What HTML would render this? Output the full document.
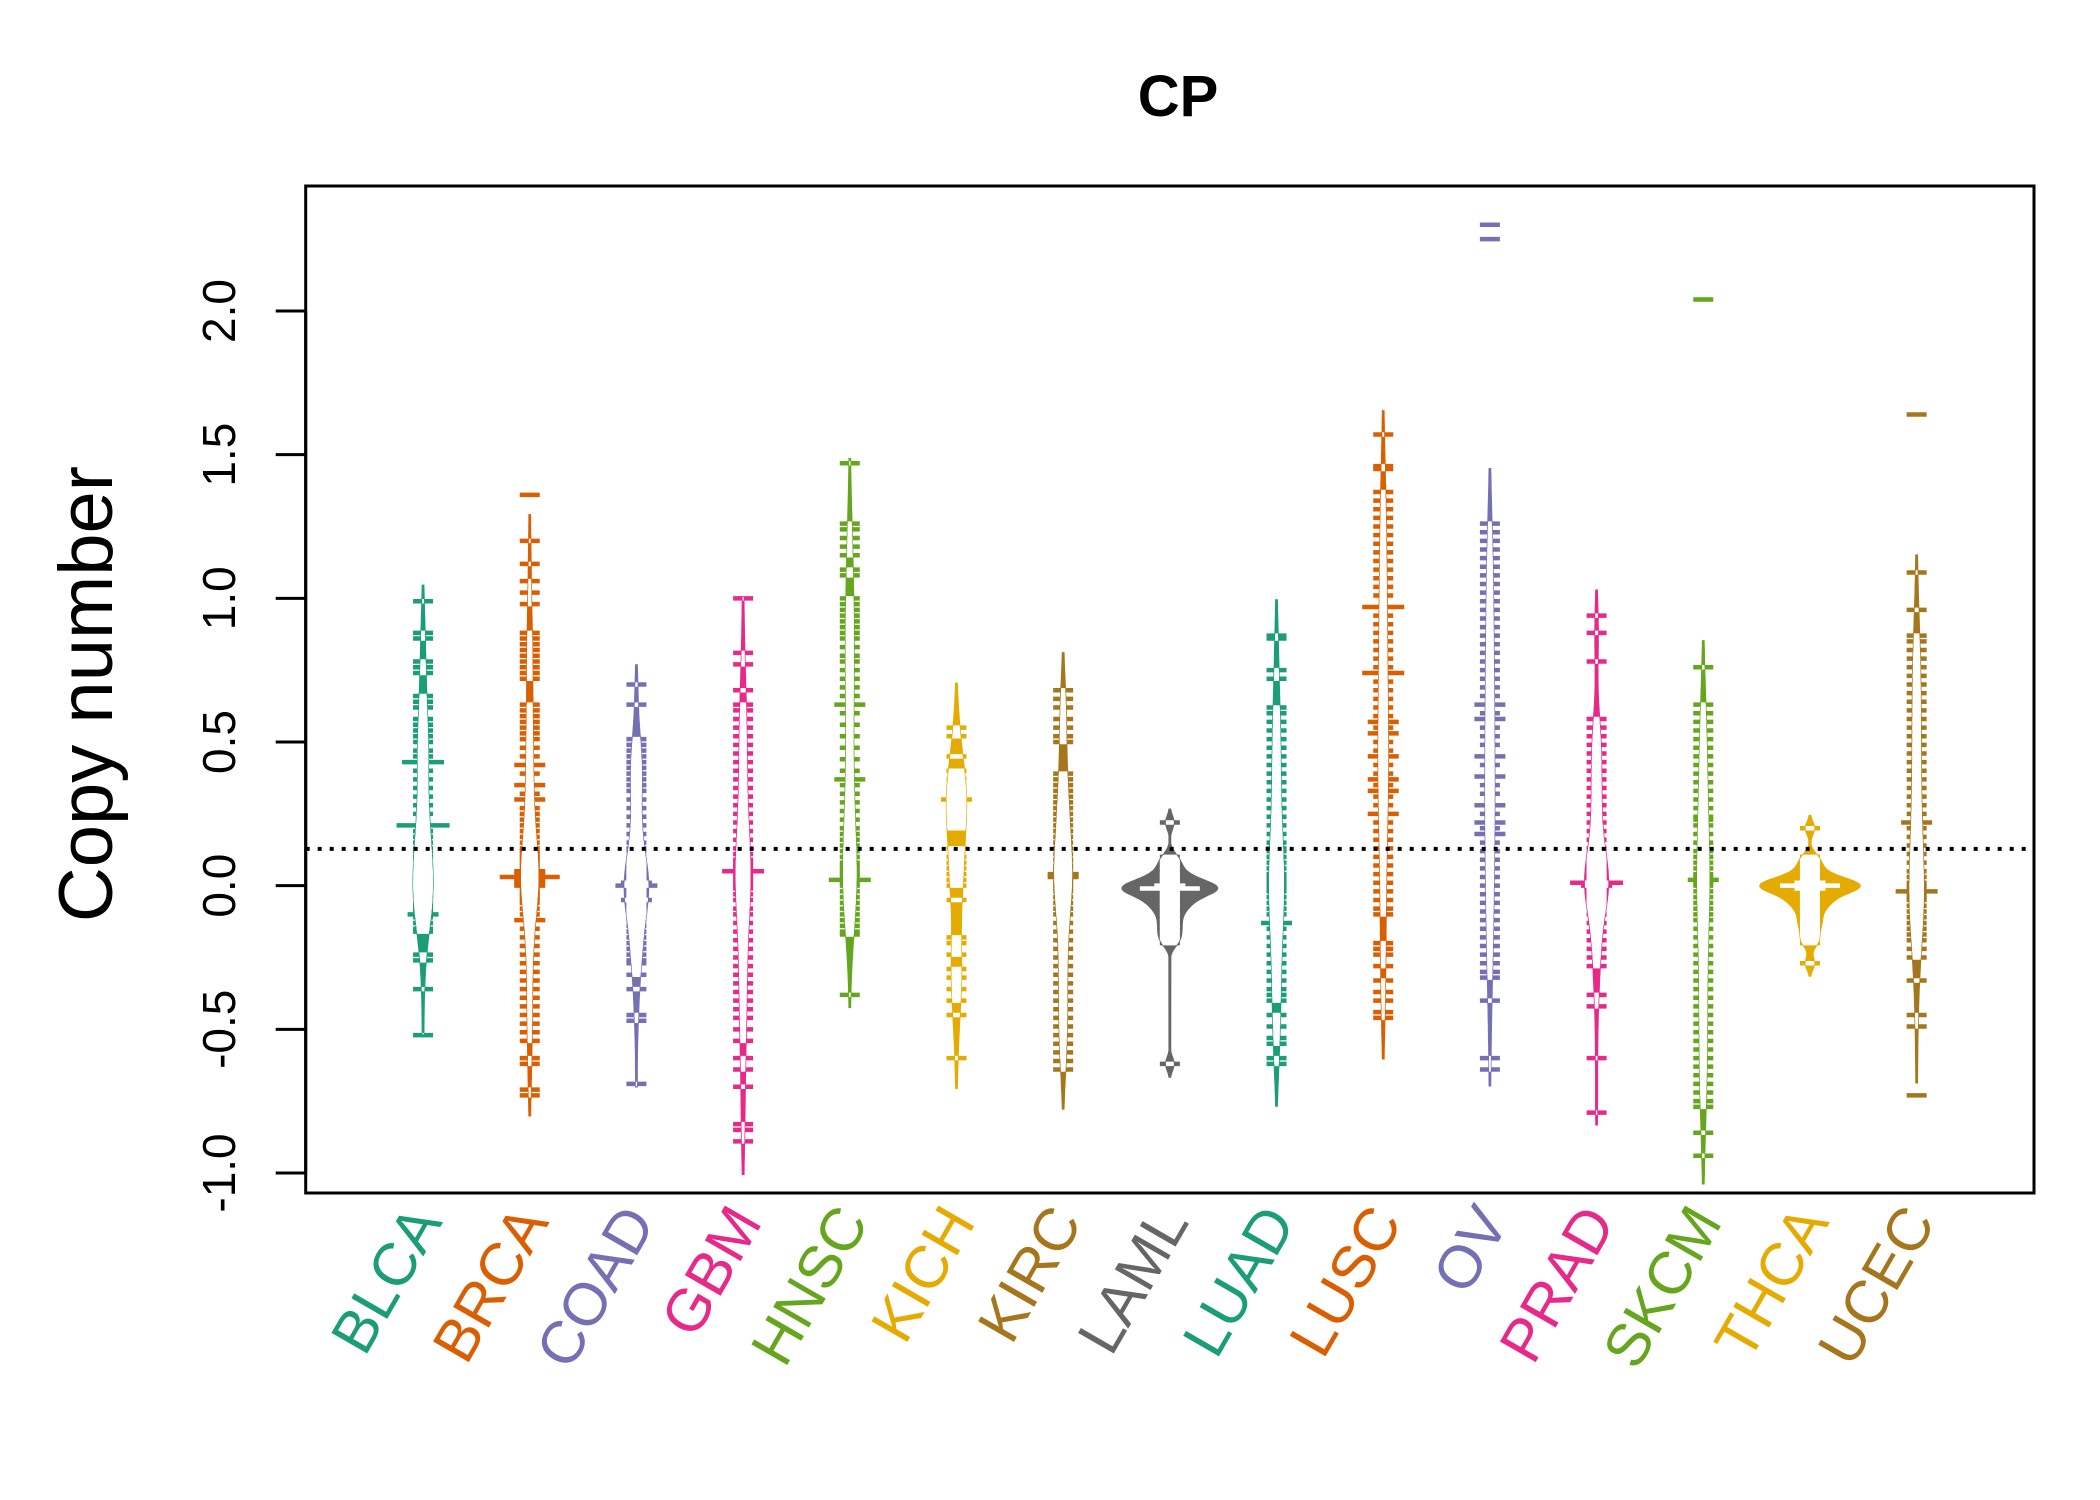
<!DOCTYPE html>
<html><head><meta charset="utf-8"><style>
html,body{margin:0;padding:0;background:#fff;}
svg{display:block;font-family:"Liberation Sans",sans-serif;}
</style></head><body>
<svg id="chart" width="2100" height="1500" viewBox="0 0 2100 1500" xmlns="http://www.w3.org/2000/svg">
<rect x="0" y="0" width="2100" height="1500" fill="#fff"/>
<text x="1178" y="116" font-size="58" font-weight="bold" text-anchor="middle">CP</text>
<text transform="translate(112,694) rotate(-90)" font-size="76" text-anchor="middle">Copy number</text>
<g id="beans"></g>
<g id="axes"></g>
</svg>
<script>
const categories = ["BLCA","BRCA","COAD","GBM","HNSC","KICH","KIRC","LAML","LUAD","LUSC","OV","PRAD","SKCM","THCA","UCEC"];
const colors = ["#1B9E77","#D95F02","#7570B3","#E7298A","#66A61E","#E6AB02","#A6761D","#666666","#1B9E77","#D95F02","#7570B3","#E7298A","#66A61E","#E6AB02","#A6761D"];
const yTicks = [-1.0,-0.5,0.0,0.5,1.0,1.5,2.0];
const yTickLabels = ["-1.0","-0.5","0.0","0.5","1.0","1.5","2.0"];
const overallMean = 0.128;
const valsBLCA = [0.99,0.88,0.86,0.78,0.76,0.74,0.66,0.64,0.62,0.58,0.56,0.54,0.52,0.50,0.47,0.45,0.43,0.43,0.43,0.40,0.37,0.34,0.31,0.28,0.25,0.21,0.21,0.21,0.21,0.19,0.17,0.15,0.13,0.12,0.10,0.09,0.08,0.07,0.06,0.05,0.04,0.03,0.02,0.01,0.00,-0.01,-0.02,-0.03,-0.04,-0.05,-0.06,-0.07,-0.08,-0.09,-0.10,-0.10,-0.11,-0.13,-0.15,-0.16,-0.24,-0.26,-0.36,-0.52];
const valsBRCA = [1.36,1.20,1.12,1.06,1.02,0.98,0.88,0.86,0.84,0.82,0.80,0.78,0.76,0.74,0.72,0.63,0.61,0.59,0.57,0.55,0.53,0.51,0.48,0.45,0.42,0.42,0.39,0.35,0.35,0.32,0.30,0.30,0.27,0.25,0.23,0.21,0.19,0.17,0.15,0.13,0.12,0.11,0.10,0.09,0.08,0.07,0.06,0.05,0.05,0.04,0.04,0.03,0.03,0.03,0.03,0.03,0.02,0.02,0.01,0.01,0.00,0.00,-0.01,-0.02,-0.03,-0.04,-0.05,-0.06,-0.08,-0.10,-0.12,-0.12,-0.15,-0.18,-0.21,-0.24,-0.27,-0.30,-0.33,-0.36,-0.39,-0.42,-0.45,-0.48,-0.51,-0.54,-0.60,-0.62,-0.71,-0.73];
const valsCOAD = [0.70,0.63,0.51,0.49,0.47,0.45,0.43,0.41,0.39,0.37,0.35,0.33,0.30,0.27,0.24,0.21,0.18,0.15,0.13,0.12,0.10,0.08,0.06,0.05,0.04,0.03,0.02,0.01,0.01,0.00,0.00,0.00,-0.01,-0.02,-0.03,-0.04,-0.05,-0.05,-0.06,-0.08,-0.10,-0.12,-0.14,-0.16,-0.18,-0.20,-0.22,-0.24,-0.26,-0.27,-0.31,-0.36,-0.45,-0.47,-0.69];
const valsGBM = [1.00,0.81,0.77,0.68,0.63,0.61,0.58,0.55,0.52,0.49,0.46,0.43,0.40,0.37,0.34,0.31,0.28,0.25,0.22,0.19,0.16,0.13,0.11,0.09,0.08,0.07,0.06,0.05,0.05,0.05,0.04,0.03,0.02,0.01,0.00,-0.01,-0.03,-0.05,-0.08,-0.10,-0.13,-0.16,-0.19,-0.22,-0.25,-0.28,-0.31,-0.34,-0.37,-0.40,-0.43,-0.46,-0.50,-0.54,-0.60,-0.64,-0.70,-0.83,-0.85,-0.89];
const valsHNSC = [1.47,1.26,1.24,1.21,1.18,1.15,1.10,1.08,1.00,0.98,0.96,0.94,0.92,0.90,0.88,0.86,0.83,0.80,0.78,0.75,0.72,0.69,0.66,0.63,0.63,0.60,0.56,0.52,0.48,0.44,0.40,0.37,0.37,0.35,0.32,0.29,0.26,0.23,0.20,0.18,0.16,0.14,0.12,0.10,0.08,0.07,0.06,0.05,0.04,0.03,0.02,0.02,0.02,0.01,0.00,-0.02,-0.04,-0.06,-0.08,-0.10,-0.12,-0.14,-0.16,-0.17,-0.38];
const valsKICH = [0.55,0.52,0.45,0.40,0.37,0.34,0.32,0.31,0.30,0.30,0.29,0.28,0.26,0.23,0.20,0.13,0.10,0.08,0.06,0.04,0.02,0.00,-0.05,-0.18,-0.20,-0.24,-0.29,-0.32,-0.36,-0.40,-0.45,-0.60];
const valsKIRC = [0.68,0.65,0.62,0.58,0.55,0.52,0.50,0.39,0.37,0.35,0.33,0.31,0.29,0.27,0.25,0.23,0.21,0.19,0.17,0.15,0.13,0.11,0.09,0.07,0.06,0.05,0.04,0.04,0.03,0.03,0.02,0.01,0.00,-0.01,-0.02,-0.04,-0.06,-0.08,-0.10,-0.13,-0.16,-0.19,-0.22,-0.25,-0.28,-0.31,-0.34,-0.37,-0.40,-0.43,-0.46,-0.49,-0.52,-0.55,-0.58,-0.61,-0.64];
const valsLAML = [0.22,0.10,0.08,0.06,0.04,0.03,0.02,0.01,0.00,0.00,-0.01,-0.01,-0.01,-0.01,-0.01,-0.01,-0.02,-0.03,-0.04,-0.05,-0.06,-0.07,-0.08,-0.10,-0.12,-0.14,-0.16,-0.18,-0.20,-0.62];
const valsLUAD = [0.87,0.86,0.75,0.72,0.62,0.60,0.57,0.54,0.51,0.48,0.45,0.42,0.39,0.36,0.33,0.30,0.27,0.24,0.21,0.18,0.15,0.13,0.12,0.10,0.08,0.06,0.04,0.03,0.02,0.01,0.00,-0.01,-0.02,-0.04,-0.06,-0.08,-0.10,-0.13,-0.13,-0.15,-0.18,-0.21,-0.24,-0.27,-0.30,-0.33,-0.36,-0.38,-0.40,-0.45,-0.49,-0.53,-0.55,-0.60,-0.62];
const valsLUSC = [1.57,1.46,1.45,1.37,1.34,1.31,1.28,1.25,1.22,1.19,1.16,1.13,1.10,1.07,1.04,1.01,0.97,0.97,0.97,0.94,0.91,0.88,0.85,0.82,0.79,0.76,0.74,0.74,0.74,0.71,0.68,0.65,0.62,0.59,0.57,0.57,0.55,0.53,0.53,0.50,0.47,0.45,0.45,0.42,0.39,0.37,0.37,0.35,0.33,0.33,0.31,0.28,0.25,0.25,0.22,0.19,0.16,0.13,0.10,0.07,0.04,0.01,-0.02,-0.05,-0.08,-0.10,-0.20,-0.22,-0.24,-0.28,-0.33,-0.37,-0.40,-0.44,-0.46];
const valsOV = [2.30,2.25,1.26,1.23,1.20,1.17,1.14,1.11,1.08,1.05,1.02,0.99,0.96,0.93,0.90,0.87,0.84,0.81,0.78,0.75,0.72,0.69,0.66,0.63,0.63,0.60,0.58,0.58,0.55,0.52,0.49,0.45,0.45,0.42,0.38,0.38,0.35,0.32,0.28,0.28,0.25,0.22,0.22,0.20,0.18,0.18,0.15,0.12,0.09,0.06,0.03,0.00,-0.03,-0.06,-0.09,-0.12,-0.15,-0.18,-0.21,-0.24,-0.27,-0.30,-0.32,-0.40,-0.60,-0.64];
const valsPRAD = [0.94,0.88,0.78,0.58,0.55,0.52,0.49,0.46,0.43,0.40,0.37,0.34,0.31,0.28,0.25,0.22,0.19,0.16,0.13,0.11,0.09,0.07,0.05,0.04,0.03,0.02,0.01,0.01,0.01,0.01,0.00,0.00,-0.01,-0.02,-0.03,-0.05,-0.07,-0.10,-0.13,-0.16,-0.19,-0.22,-0.25,-0.28,-0.38,-0.42,-0.60,-0.79];
const valsSKCM = [2.04,0.76,0.63,0.60,0.57,0.54,0.51,0.48,0.45,0.42,0.39,0.36,0.33,0.30,0.27,0.24,0.23,0.21,0.18,0.15,0.12,0.10,0.08,0.06,0.04,0.03,0.02,0.02,0.01,0.00,-0.02,-0.04,-0.06,-0.08,-0.10,-0.12,-0.15,-0.18,-0.21,-0.24,-0.27,-0.30,-0.33,-0.36,-0.39,-0.42,-0.45,-0.48,-0.51,-0.54,-0.57,-0.60,-0.63,-0.66,-0.69,-0.72,-0.75,-0.77,-0.86,-0.94];
const valsTHCA = [0.20,0.10,0.08,0.06,0.04,0.03,0.02,0.01,0.01,0.00,0.00,0.00,0.00,0.00,-0.01,-0.01,-0.02,-0.03,-0.04,-0.05,-0.06,-0.07,-0.09,-0.11,-0.13,-0.15,-0.18,-0.20,-0.27];
const valsUCEC = [1.64,1.09,0.96,0.87,0.85,0.82,0.79,0.76,0.73,0.70,0.67,0.64,0.61,0.58,0.55,0.52,0.49,0.46,0.43,0.40,0.37,0.34,0.31,0.28,0.25,0.22,0.22,0.20,0.17,0.14,0.11,0.08,0.05,0.03,0.01,0.00,-0.01,-0.02,-0.02,-0.02,-0.03,-0.04,-0.05,-0.07,-0.09,-0.11,-0.13,-0.15,-0.17,-0.19,-0.22,-0.25,-0.33,-0.45,-0.49,-0.73];
const seriesValues = [valsBLCA,valsBRCA,valsCOAD,valsGBM,valsHNSC,valsKICH,valsKIRC,valsLAML,valsLUAD,valsLUSC,valsOV,valsPRAD,valsSKCM,valsTHCA,valsUCEC];

const NS = "http://www.w3.org/2000/svg";
const plot = {left:305.7, right:2034, top:186, bottom:1193};
const xDomain = [-0.1, 16.1];
const yScaleTop = 311, yScaleBottom = 1173;
function xScale(i){ return plot.left + (i + 1 - xDomain[0]) / (xDomain[1]-xDomain[0]) * (plot.right-plot.left); }
function yScale(v){ return yScaleBottom + (v - (-1.0)) / 3.0 * (yScaleTop - yScaleBottom); }
function mk(tag, attrs, parent){ const e=document.createElementNS(NS,tag); for(const k in attrs) e.setAttribute(k,attrs[k]); parent.appendChild(e); return e; }

const svg = document.getElementById('chart');
const beans = document.getElementById('beans');
const axes = document.getElementById('axes');
const defs = mk('defs',{},svg);

function bw(v){
  const n=v.length, m=v.reduce((a,b)=>a+b,0)/n;
  const sd=Math.sqrt(v.reduce((a,b)=>a+(b-m)*(b-m),0)/(n-1));
  const s=[...v].sort((a,b)=>a-b);
  const q=p=>{const h=(n-1)*p, l=Math.floor(h); return s[l]+(s[Math.min(l+1,n-1)]-s[l])*(h-l);};
  const iqr=(q(0.75)-q(0.25))/1.34;
  return 0.75*Math.min(sd, iqr>0?iqr:sd)*Math.pow(n,-0.2);
}
function dens(v,h,t){ let s=0; for(const x of v){const z=(t-x)/h; s+=Math.exp(-0.5*z*z);} return s/(v.length*h*Math.sqrt(2*Math.PI)); }

const profiles = seriesValues.map(v=>{
  const h=bw(v); const lo=Math.min(...v)-3*h, hi=Math.max(...v)+3*h;
  const pts=[]; const N=300;
  for(let k=0;k<=N;k++){ const t=lo+(hi-lo)*k/N; pts.push([t,dens(v,h,t)]); }
  return pts;
});
let gmax=0; profiles.forEach(p=>p.forEach(q=>{ if(q[1]>gmax) gmax=q[1]; }));
const maxHalf = 50;

seriesValues.forEach((vals,i)=>{
  const cx=xScale(i), col=colors[i];
  const g=mk('g',{},beans);
  
  
  const pts=profiles[i].filter(q=>q[1]/gmax*maxHalf>0.6);
  let d='';
  pts.forEach((q,k)=>{ d+=(k?'L':'M')+(cx+q[1]/gmax*maxHalf).toFixed(1)+','+yScale(q[0]).toFixed(1); });
  for(let k=pts.length-1;k>=0;k--){ const q=pts[k]; d+='L'+(cx-q[1]/gmax*maxHalf).toFixed(1)+','+yScale(q[0]).toFixed(1); }
  d+='Z';
  const bp=mk('path',{d:d,fill:col,stroke:col,'stroke-width':1.5},g);
  
  
  const cp=mk('clipPath',{id:'clip'+i},defs);
  mk('path',{d:d},cp);
  const counts={};
  vals.forEach(v=>{ const k=v.toFixed(2); counts[k]=(counts[k]||0)+1; });
  const outer=mk('g',{},g), inner=mk('g',{'clip-path':'url(#clip'+i+')'},g);
  const uniq=Object.keys(counts).map(parseFloat).sort((a,b)=>a-b);
  for(let k=1;k<uniq.length;k++){
    if(uniq[k]-uniq[k-1]<=0.045){
      const r=mk('rect',{x:cx-10,width:20,y:yScale(uniq[k]),height:yScale(uniq[k-1])-yScale(uniq[k]),fill:'#fff'},inner);
      
      
    }
  }
  Object.keys(counts).forEach(k=>{
    const v=parseFloat(k), c=counts[k];
    const w=Math.min(20+11*(c-1),60), y=yScale(v);
    const l1=mk('line',{x1:cx-w/2,x2:cx+w/2,y1:y,y2:y,stroke:col,'stroke-width':4.5},outer);
    
    
    const l2=mk('line',{x1:cx-w/2,x2:cx+w/2,y1:y,y2:y,stroke:'#fff','stroke-width':4.5},inner);
    
    
  });
  const t=mk('text',{transform:`translate(${(cx+20).toFixed(1)},1222) rotate(-60)`,'text-anchor':'end','font-size':60,fill:col},axes);
  t.textContent=categories[i];
  
  
});

const ml=mk('line',{x1:plot.left,x2:plot.right,y1:yScale(overallMean),y2:yScale(overallMean),stroke:'#000','stroke-width':4,'stroke-dasharray':'4 8'},axes);


const box=mk('rect',{x:plot.left,y:plot.top,width:plot.right-plot.left,height:plot.bottom-plot.top,fill:'none',stroke:'#000','stroke-width':3},axes);


const ax=mk('line',{x1:plot.left,x2:plot.left,y1:yScale(yTicks[0]),y2:yScale(yTicks[yTicks.length-1]),stroke:'#000','stroke-width':3},axes);


yTicks.forEach((v,k)=>{
  const y=yScale(v);
  const tk=mk('line',{x1:plot.left-30,x2:plot.left,y1:y,y2:y,stroke:'#000','stroke-width':3},axes);
  
  
  const tl=mk('text',{transform:`translate(235,${y.toFixed(1)}) rotate(-90)`,'text-anchor':'middle','font-size':46},axes);
  tl.textContent=yTickLabels[k];
  
  
});
</script>
</body></html>
